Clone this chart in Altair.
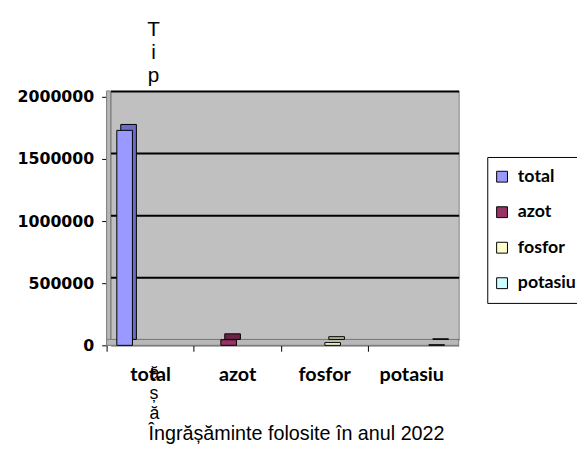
import altair as alt
import pandas as pd

categories = ["total", "azot", "fosfor", "potasiu"]
values = [1730000, 45000, 22000, 5000]
front_colors = ["#9999FF", "#993366", "#FFFFCC", "#CCFFFF"]
side_colors = ["#6B6BC9", "#6E2248", "#BDBD96", "#96BDBD"]
y_ticks = [0, 500000, 1000000, 1500000, 2000000]
y_title = ["T", "i", "p"]
x_title_letters = ["ă", "ș", "ă"]
x_title_line = "Îngrășăminte folosite în anul 2022"

df = pd.DataFrame({"cat": categories, "serie": categories, "val": values})

W, H = 353, 252
DEPTH_X, DEPTH_Y = 4, 6
BAND = W / len(categories)

xscale = alt.Scale(paddingInner=0, paddingOuter=0)
yscale = alt.Scale(domain=[0, 2000000], nice=False)

x_front = alt.X(
    "cat:N", sort=categories, scale=xscale,
    axis=alt.Axis(
        orient="bottom", offset=DEPTH_Y, tickOffset=-BAND / 2 - DEPTH_X,
        labelOffset=BAND / 2,
        domainColor="black", tickColor="black", tickSize=6,
        labelFont="Lato", labelFontWeight="bold", labelFontSize=20,
        labelColor="black", labelPadding=14, labelAngle=0,
        title=x_title_letters, titleAlign="left", titleAnchor="start", titleAngle=0,
        titleX=39, titleY=20, titleBaseline="top",
        titleFont="Liberation Sans", titleFontSize=18, titleFontWeight="normal",
        titleLineHeight=20, titleColor="black",
    ),
)
x_back = alt.X(
    "cat:N", sort=categories, scale=xscale,
    axis=alt.Axis(
        orient="bottom", labels=False, ticks=False, domain=False, grid=False,
        title=x_title_line, titleAlign="left", titleAnchor="start", titleAngle=0,
        titleX=38, titleY=85, titleBaseline="top",
        titleFont="Liberation Sans", titleFontSize=20, titleFontWeight="normal",
        titleColor="black",
    ),
)
xo_back = alt.XOffset("serie:N", sort=categories,
                      scale=alt.Scale(paddingInner=0.08, paddingOuter=0.6))
xo_front = alt.XOffset("serie:N", sort=categories,
                       scale=alt.Scale(range=[-DEPTH_X, BAND - DEPTH_X],
                                       paddingInner=0.08, paddingOuter=0.6))

y_back = alt.Y(
    "val:Q", scale=yscale,
    axis=alt.Axis(
        orient="left", values=y_ticks, grid=True, gridColor="black", gridWidth=2,
        labels=False, ticks=False, domain=False, title=None,
    ),
)
y_front = alt.Y(
    "val:Q", scale=yscale,
    axis=alt.Axis(
        orient="left", values=y_ticks, grid=False, format="d",
        offset=DEPTH_X, tickOffset=DEPTH_Y, domainColor="black", tickColor="black",
        tickSize=5,
        labelFont="DejaVu Sans", labelFontWeight="bold", labelFontSize=16,
        labelColor="black", labelPadding=8,
        title=y_title, titleAngle=0, titleAlign="center", titleBaseline="top",
        titleX=47, titleY=-73, titleFont="Liberation Sans", titleFontSize=21,
        titleFontWeight="normal", titleLineHeight=23, titleColor="black",
    ),
)

one = pd.DataFrame({"k": [0]})
left_wall = alt.Chart(one).mark_rect(fill="#B8B8B8", stroke="#808080", strokeWidth=1).encode(
    x=alt.value(-DEPTH_X), x2=alt.value(0), y=alt.value(0), y2=alt.value(H + DEPTH_Y)
)
floor = alt.Chart(one).mark_rect(fill="#B8B8B8", stroke="#808080", strokeWidth=1).encode(
    x=alt.value(-DEPTH_X), x2=alt.value(W), y=alt.value(H), y2=alt.value(H + DEPTH_Y)
)

back = alt.Chart(df).mark_bar(stroke="black", strokeWidth=1).encode(
    x=x_back, xOffset=xo_back, y=y_back,
    color=alt.Color("serie:N", sort=categories,
                    scale=alt.Scale(domain=categories, range=side_colors), legend=None),
)

front = alt.Chart(df).mark_bar(
    stroke="black", strokeWidth=1, yOffset=DEPTH_Y, y2Offset=DEPTH_Y
).encode(
    x=x_front, xOffset=xo_front, y=y_front,
    color=alt.Color(
        "serie:N", sort=categories,
        scale=alt.Scale(domain=categories, range=front_colors),
        legend=alt.Legend(
            title=None, orient="none", legendX=382, legendY=67,
            symbolType="square", symbolSize=121, symbolStrokeColor="black",
            symbolStrokeWidth=1, symbolOffset=4, labelFont="Lato",
            labelFontWeight="bold", labelFontSize=18, labelColor="black",
            labelOffset=7, clipHeight=36, rowPadding=0, padding=2,
            strokeColor="black", fillColor="white",
        ),
    ),
)

chart = (
    alt.layer(left_wall, floor, back, front)
    .resolve_scale(color="independent", xOffset="independent")
    .resolve_axis(y="independent", x="independent")
    .properties(
        width=W, height=H,
        autosize=alt.AutoSizeParams(type="none"),
        padding={"left": 104, "top": 81, "right": 120, "bottom": 104},
        background="white",
    )
    .configure_view(fill="#C0C0C0", stroke="#808080", strokeWidth=1)
)

chart.save("out.html", embed_options={"renderer": "svg", "actions": False})
